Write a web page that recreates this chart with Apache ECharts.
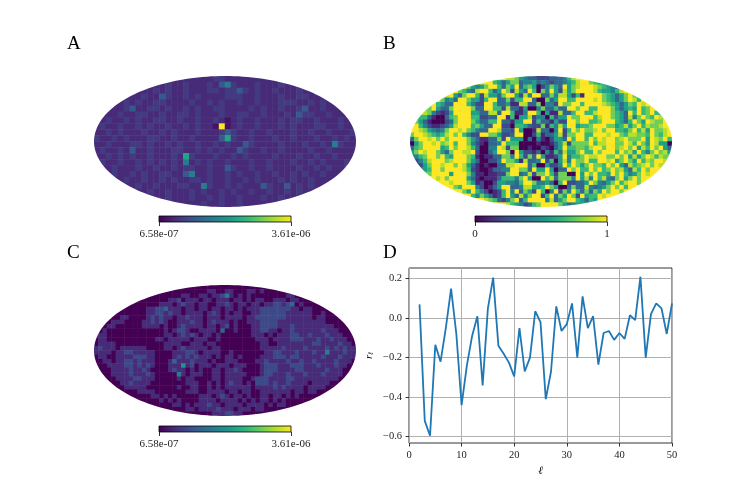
<!DOCTYPE html>
<html>
<head>
<meta charset="utf-8">
<script src="https://cdn.jsdelivr.net/npm/echarts@6/dist/echarts.min.js"></script>
<style>
html,body{margin:0;padding:0;background:#fff}
#main{width:747px;height:498px}
</style>
</head>
<body>
<div id="main"></div>
<script>
// sky maps, one code per cell, rows centred on the map
const mapA = [
  '1111112211111111',
  '112112111213421112111211',
  '111212112111221223212112111211',
  '1112113211212111122211211121122111',
  '11212112211112112121121121112221121211',
  '1112311221211212112211112121121123112111',
  '111211221121122121112112211211121322112111',
  '11211212112211211211210121121112122112111211',
  '12112112121121121211090121121112121112211211',
  '11212111211212111211123211211211121121121112',
  '21121211122112112111135211211121121112112121',
  '11211122121121211211212113211112111211214211',
  '12112131121112211212121132112112111121121111',
  '11212121121112152111211212111121112112112111',
  '12112112121212141212112111211211121121211121',
  '112111211211212211211321121121111211212112',
  '1211212112211341121121211211211212112111',
  '11211211212112212112112121112121121112',
  '1121121112211421121211132113121211',
  '112112111212112121121121121211',
  '112111211212112111211211',
  '1111211211211111'
];
const mapB = [
  '988754332223334689',
  '9996535773445343233456899765',
  '975457996375936750247539578999876543',
  '9764389963597285396074952857999986554689',
  '89537996285537995284993374885261999976535797',
  '974539975526993372669930073599669999897653579869',
  '96533999642299633511883370442977996999987653576989',
  '7953379999733996628331500473363399799669997535659679',
  '874212599995533883996114996051183369966899976539696796',
  '66310036799966223399160558244062559779996899765384797698',
  '7531000237999753366933155992633152299799667999653697598779',
  '9642112358999675339922066532271648599566799977568579687789',
  '998754347998976433998332950018330492697977897996657968597789',
  '799876568979642299775223990026133582779966999899768877697689',
  '379989797999975311337295550304102553969969798997897779598796',
  '057998978969974210334966600001001358277779688997798697598550',
  '367999956979986300449827700100210359667768997997897958697953',
  '579899753799889200359970952213041638557966979996978596479785',
  '4679979659997610113377496273951125946679889977979585798687',
  '2468999789997530022497751833492605849779669989579759687998',
  '25799899798531010033889993600522496975797769795386789798',
  '569979999862100133449977395595033979669796797853869799',
  '7999959997411011227993482779627700959796659796457989',
  '98979999531011136664795009683777495849684379579799',
  '999899975120025544369974453069223359743579689979',
  '99769994201359933488556975003733843457979699',
  '9975964201269493752960492749637375979979',
  '996475312695384799269375972956698999',
  '9876324793699994835799653659',
  '986542367999975345'
];
const mapC = [
  '000000000000000000',
  '0000000000110011000110100000',
  '000000001100110112410101000000001100',
  '0000000112011101101110110101100111011000',
  '00000001110121101100112101101101122123010000',
  '000000112231110110110110110101112222222110110000',
  '00000001122121101111012101011001122222211111100100',
  '0011000012121101121110111011110112222222111111011000',
  '011100001121210011121101211101001112222111111111110000',
  '01100000011110100121111011012010001122221112111111111000',
  '0100000000000001012210011110300100011221101121111112111000',
  '1100000000000001101212101101000000011101011122112111211100',
  '011000000000001101111101110010000000011101111222111211211100',
  '011110000000000011110011101100000000001100111111112211112110',
  '121110111111000011012111110110000000001111121111211112121211',
  '111101122111110000111221011110010000000112211121112114111211',
  '011001111222110000121212111010110100001112221221111121112111',
  '001101122121110001311121110100111000011211112112112111121110',
  '0011112212121000111512011101110111000122211122211121112110',
  '0001111211210000121101010011011210000122211112211111211100',
  '00111121112100000410111001101111100012211121112111211110',
  '001111221110000010110000110111100122211112211111111110',
  '0011211110000000011100101012110102221211211110111100',
  '00111110000000100110010101111110111121211110111100',
  '000011110000000111001111011011001111111011011000',
  '00000110101000001110121011010011011010100000',
  '0000010101000011110111101010110101000000',
  '000000110101112110111101111010110000',
  '0000011011112111011101100000',
  '000000111221100000'
];
// what each code means as a position on the colour scale, per map
const codesA = [0.05, 0.12, 0.17, 0.28, 0.42, 0.58, 0.7, 0.8, 0.9, 1];
const codesB = [0, 0.11, 0.22, 0.33, 0.44, 0.56, 0.67, 0.78, 0.89, 1];
const codesC = [0, 0.12, 0.22, 0.32, 0.42, 0.52, 0.62, 0.72, 0.82, 0.92];
const colourStops = ['#440154', '#482878', '#3e4a89', '#31688e', '#26828e', '#1f9e89', '#35b779', '#6ece58', '#b5de2b', '#fde725'];

// cross correlation
const ell = [2,3,4,5,6,7,8,9,10,11,12,13,14,15,16,17,18,19,20,21,22,23,24,25,26,27,28,29,30,31,32,33,34,35,36,37,38,39,40,41,42,43,44,45,46,47,48,49,50];
const rEll = [0.07,-0.52,-0.595,-0.135,-0.22,-0.05,0.15,-0.08,-0.44,-0.24,-0.09,0.01,-0.34,0.05,0.205,-0.14,-0.18,-0.225,-0.295,-0.05,-0.27,-0.2,0.035,-0.02,-0.41,-0.27,0.06,-0.065,-0.03,0.075,-0.2,0.11,-0.05,0.01,-0.235,-0.075,-0.065,-0.11,-0.075,-0.105,0.015,-0.01,0.21,-0.2,0.02,0.075,0.05,-0.08,0.075];
const yTicks = [-0.6, -0.4, -0.2, 0, 0.2];
const xTicks = [0, 10, 20, 30, 40, 50];
const barTicksAC = [6.58e-7, 3.61e-6];
const barTicksB = [0, 1];

const serif = '"Liberation Serif", serif';

function cells(rows, codes, cols) {
  const out = [];
  rows.forEach((row, r) => {
    // repeat the end cells a little so the rows reach the rim, the mask trims them
    const padded = row[0] + row[0] + row + row[row.length - 1] + row[row.length - 1];
    const off = Math.floor((cols - padded.length) / 2);
    padded.split('').forEach((d, i) => {
      if (off + i >= 0 && off + i < cols) out.push([off + i, r, codes[+d]]);
    });
  });
  return out;
}

const maps = [
  { rows: mapA, codes: codesA, left: 94, top: 76 },
  { rows: mapB, codes: codesB, left: 410, top: 76 },
  { rows: mapC, codes: codesC, left: 94, top: 285 }
];
const W = 262, H = 131;

const expo = v => v.toExponential(2).replace(/e-(\d)$/, 'e-0$1');
const bars = [
  { left: 159, top: 216, ticks: barTicksAC, fmt: expo },
  { left: 475, top: 216, ticks: barTicksB, fmt: v => String(v) },
  { left: 159, top: 426, ticks: barTicksAC, fmt: expo }
];

const grid = [], xAxis = [], yAxis = [], series = [], graphic = [];

// white sheet with an elliptical hole so the rim of the map is smooth
function maskPoints(m) {
  const cx = m.left + W / 2, cy = m.top + H / 2, pad = 4;
  const x0 = m.left - pad, y0 = m.top - pad, x1 = m.left + W + pad, y1 = m.top + H + pad;
  const pts = [[x0, cy], [x0, y0], [x1, y0], [x1, y1], [x0, y1], [x0, cy]];
  for (let a = 0; a <= 180; a++) {
    const t = Math.PI * 2 * a / 180;
    pts.push([cx - W / 2 * Math.cos(t), cy + H / 2 * Math.sin(t)]);
  }
  return pts;
}

maps.forEach(m => {
  const cols = Math.max(...m.rows.map(r => r.length));
  grid.push({ left: m.left, top: m.top, width: W, height: H });
  xAxis.push({ type: 'category', gridIndex: grid.length - 1, data: [...Array(cols).keys()], show: false });
  yAxis.push({ type: 'category', gridIndex: grid.length - 1, data: [...Array(m.rows.length).keys()], inverse: true, show: false });
  series.push({
    type: 'heatmap', xAxisIndex: grid.length - 1, yAxisIndex: grid.length - 1,
    data: cells(m.rows, m.codes, cols), silent: true, progressive: 0, animation: false
  });
  graphic.push({
    type: 'polygon', z: 100, silent: true,
    shape: { points: maskPoints(m) },
    style: { fill: '#fff' }
  });
});

// colour bars
bars.forEach(b => {
  grid.push({
    left: b.left, top: b.top, width: 132, height: 6, show: true,
    backgroundColor: new echarts.graphic.LinearGradient(0, 0, 1, 0,
      colourStops.map((c, i) => ({ offset: i / (colourStops.length - 1), color: c }))),
    borderColor: '#000', borderWidth: 0.8
  });
  const vals = b.ticks;
  xAxis.push({
    type: 'value', gridIndex: grid.length - 1, min: vals[0], max: vals[1],
    axisLine: { show: false, onZero: false },
    axisTick: { show: true, length: 4, customValues: vals, lineStyle: { color: '#000', width: 0.8 } },
    axisLabel: { customValues: vals, formatter: b.fmt, fontFamily: serif, fontSize: 11, color: '#222', margin: 7, showMinLabel: true, showMaxLabel: true },
    splitLine: { show: false }
  });
  yAxis.push({ type: 'value', gridIndex: grid.length - 1, show: false, min: 0, max: 1 });
});

// line panel
grid.push({ left: 409, top: 268, width: 263, height: 175, show: true, borderColor: '#000', borderWidth: 0.8 });
const gi = grid.length - 1;
xAxis.push({
  type: 'value', gridIndex: gi, min: 0, max: 50,
  name: 'ℓ', nameLocation: 'middle', nameGap: 23,
  nameTextStyle: { fontFamily: serif, fontStyle: 'italic', fontSize: 11, color: '#000' },
  axisLine: { show: false, onZero: false },
  axisTick: { length: 3.5, customValues: xTicks, lineStyle: { color: '#000', width: 0.8 } },
  axisLabel: { customValues: xTicks, fontFamily: serif, fontSize: 10.5, color: '#222', margin: 7 },
  splitLine: { show: true, lineStyle: { color: '#b0b0b0', width: 1 } }
});
yAxis.push({
  type: 'value', gridIndex: gi, min: -0.632, max: 0.254,
  name: '{r|r}{s|ℓ}', nameLocation: 'middle', nameGap: 34, nameRotate: 90,
  nameTextStyle: { rich: { r: { fontFamily: serif, fontStyle: 'italic', fontSize: 11, color: '#000' }, s: { fontFamily: serif, fontStyle: 'italic', fontSize: 7, color: '#000', verticalAlign: 'bottom' } } },
  axisLine: { show: false, onZero: false },
  axisTick: { length: 3.5, customValues: yTicks, lineStyle: { color: '#000', width: 0.8 } },
  axisLabel: {
    customValues: yTicks, fontFamily: serif, fontSize: 10.5, color: '#222', margin: 7,
    formatter: v => (v < 0 ? '−' : '') + Math.abs(v).toFixed(1)
  },
  splitLine: { show: true, lineStyle: { color: '#b0b0b0', width: 1 } }
});
series.push({
  type: 'line', xAxisIndex: gi, yAxisIndex: gi, symbol: 'none', silent: true,
  lineStyle: { color: '#1f77b4', width: 1.8 }, clip: true,
  data: ell.map((l, i) => [l, rEll[i]])
});

const panelTitle = (text, left, top) => ({
  text, left, top, textStyle: { fontFamily: serif, fontSize: 19, fontWeight: 'normal', color: '#000' }
});

const chart = echarts.init(document.getElementById('main'));
chart.setOption({
  backgroundColor: '#fff',
  animation: false,
  title: [panelTitle('A', 62, 30), panelTitle('B', 378, 30), panelTitle('C', 62, 239), panelTitle('D', 378, 239)],
  visualMap: {
    show: false, type: 'continuous', min: 0, max: 1,
    seriesIndex: [0, 1, 2], inRange: { color: colourStops }
  },
  grid, xAxis, yAxis, series, graphic
});
window.addEventListener('resize', () => { chart.resize(); });
</script>
</body>
</html>
